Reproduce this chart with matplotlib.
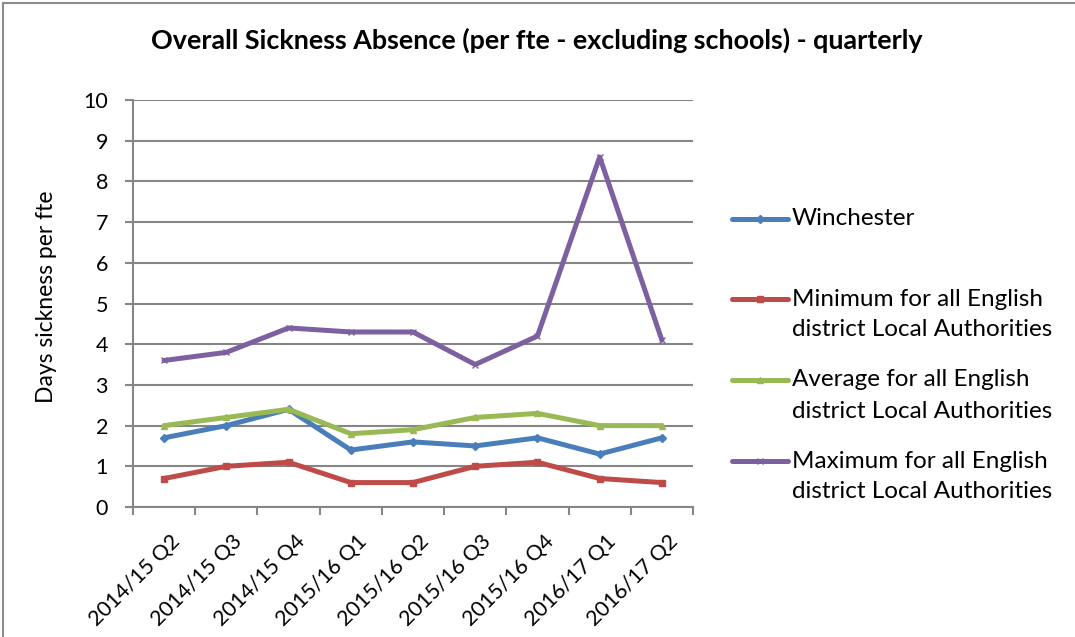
import matplotlib.pyplot as plt
from matplotlib.lines import Line2D
from matplotlib.transforms import ScaledTranslation

plt.rcParams['font.family'] = ['Lato', 'DejaVu Sans']

quarters = ['2014/15 Q2', '2014/15 Q3', '2014/15 Q4', '2015/16 Q1', '2015/16 Q2',
            '2015/16 Q3', '2015/16 Q4', '2016/17 Q1', '2016/17 Q2']
winchester = [1.7, 2.0, 2.4, 1.4, 1.6, 1.5, 1.7, 1.3, 1.7]
minimum = [0.7, 1.0, 1.1, 0.6, 0.6, 1.0, 1.1, 0.7, 0.6]
average = [2.0, 2.2, 2.4, 1.8, 1.9, 2.2, 2.3, 2.0, 2.0]
maximum = [3.6, 3.8, 4.4, 4.3, 4.3, 3.5, 4.2, 8.6, 4.1]

series = [
    (['Winchester'], winchester, '#4A7EBB', 'D'),
    (['Minimum for all English', 'district Local Authorities'], minimum, '#BE4B48', 's'),
    (['Average for all English', 'district Local Authorities'], average, '#98B954', '^'),
    (['Maximum for all English', 'district Local Authorities'], maximum, '#7D60A0', 'x'),
]

W, H = 1075, 637
fig = plt.figure(figsize=(W / 100, H / 100), dpi=100)
ax = fig.add_axes([133 / W, 1 - 507 / H, (693 - 133) / W, (507 - 100) / H])

x = list(range(len(quarters)))
for label, vals, color, mk in series:
    ax.plot(x, vals, color=color, lw=3.6, marker=mk, markersize=4,
            markeredgecolor=color, solid_joinstyle='round', solid_capstyle='round')

grid_c = '#868686'
ax.set_xlim(-0.5, len(quarters) - 0.5)
ax.set_ylim(0, 10)
ax.set_yticks(range(0, 11))
ax.yaxis.grid(True, color=grid_c, lw=1.5)
ax.set_axisbelow(True)
for s in ['top', 'right']:
    ax.spines[s].set_visible(False)
for s in ['left', 'bottom']:
    ax.spines[s].set_color(grid_c)
    ax.spines[s].set_linewidth(1.5)

# category ticks sit between quarters, labels at the centres
ax.set_xticks([i - 0.5 for i in range(len(quarters) + 1)])
ax.set_xticklabels([])
ax.set_xticks(x, minor=True)
ax.set_xticklabels(quarters, minor=True, rotation=45, ha='right', va='top',
                   rotation_mode='anchor', fontsize=15.5)
ax.tick_params(axis='x', which='minor', length=0, pad=0)
ax.tick_params(axis='x', which='major', length=6, color=grid_c, width=1.5)
ax.tick_params(axis='y', length=6, color=grid_c, width=1.5, labelsize=15.5, pad=12)
shift = ScaledTranslation(6 / 100, -24 / 100, fig.dpi_scale_trans)
for t in ax.get_xticklabels(minor=True):
    t.set_transform(t.get_transform() + shift)

ax.set_ylabel('Days sickness per fte', fontsize=16.5)
ax.yaxis.set_label_coords(57 / W, 1 - 297 / H, transform=fig.transFigure)

fig.text(537 / W, 1 - 40 / H, 'Overall Sickness Absence (per fte - excluding schools) - quarterly',
         ha='center', va='center', fontsize=19.4, fontweight='bold')

# legend entries, handle aligned with the first text line
entry_y = [219, 299, 380, 461]
for (lines, vals, color, mk), y in zip(series, entry_y):
    yf = 1 - y / H
    fig.add_artist(Line2D([732 / W, 788 / W], [yf, yf], color=color, lw=3.6,
                          solid_capstyle='round', transform=fig.transFigure))
    fig.add_artist(Line2D([760 / W], [yf], color=color, marker=mk, markersize=4,
                          transform=fig.transFigure))
    for k, line in enumerate(lines):
        fig.text(792 / W, 1 - (y + 31 * k) / H, line, ha='left', va='center', fontsize=17.5)

# outer chart frame
fig.add_artist(Line2D([3 / W, 3 / W], [0, 1 - 3 / H], color='#8c8c8c', lw=1.5,
                      transform=fig.transFigure))
fig.add_artist(Line2D([3 / W, 1], [1 - 3 / H, 1 - 3 / H], color='#8c8c8c', lw=1.5,
                      transform=fig.transFigure))

fig.savefig('out.png', dpi=100)
